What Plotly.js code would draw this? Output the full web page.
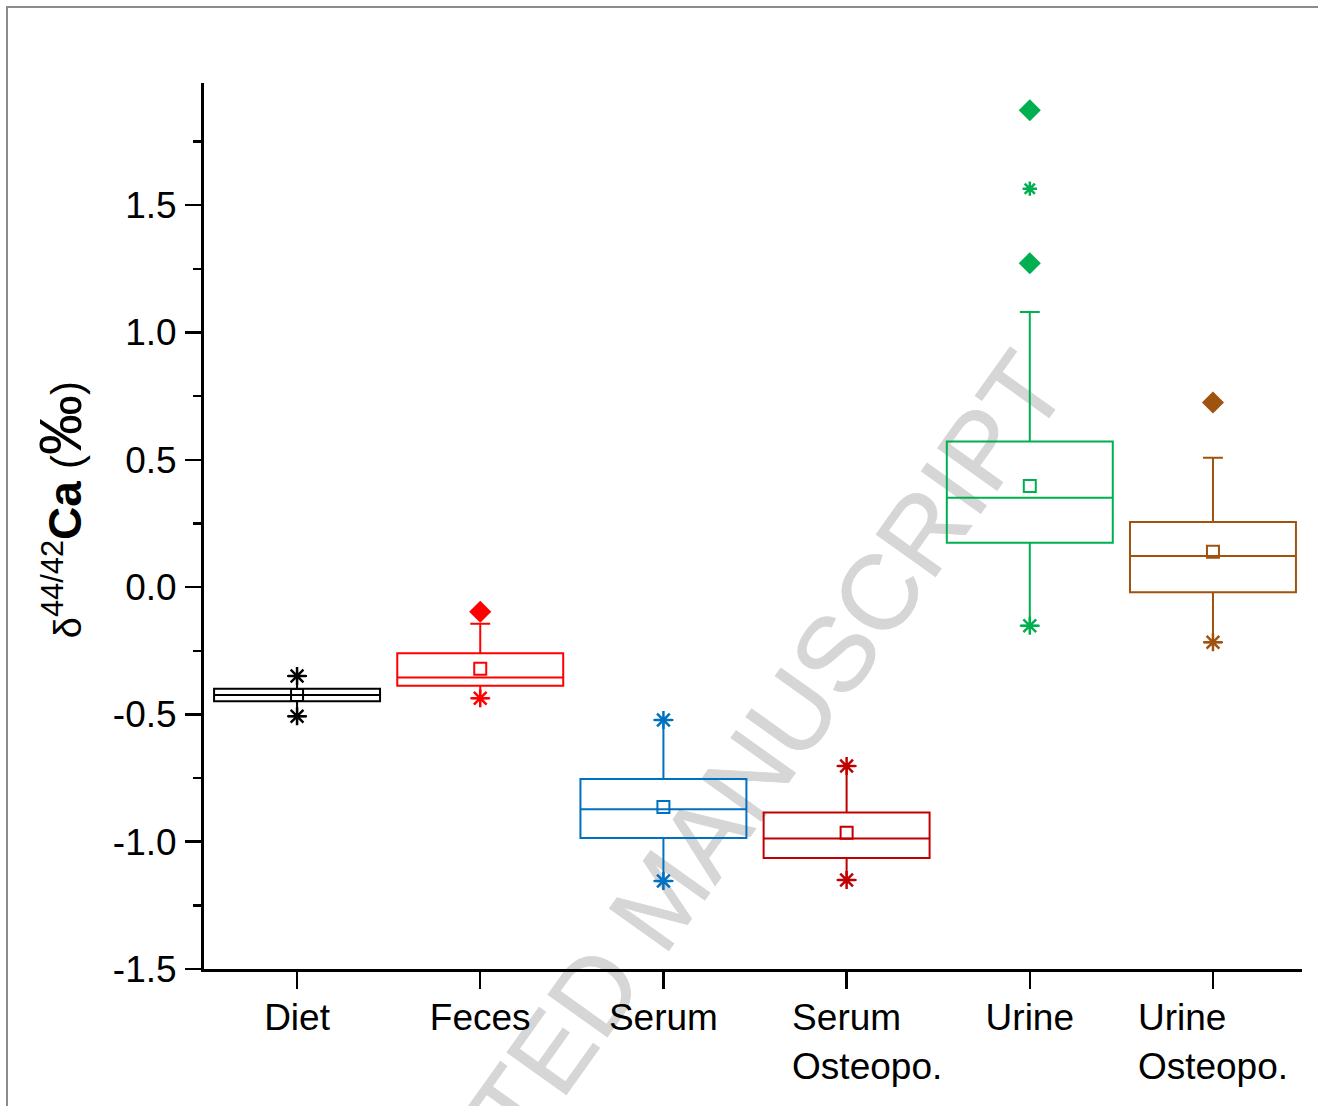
<!DOCTYPE html>
<html>
<head>
<meta charset="utf-8">
<script src="https://cdn.plot.ly/plotly-3.0.1.min.js"></script>
<style>
  html, body { margin: 0; padding: 0; background: #ffffff; }
  #wrap { position: relative; width: 1318px; height: 1106px; overflow: hidden; background: #ffffff; }
  #wm { position: absolute; left: 661px; top: 898px; transform: translate(-50%, -50%) rotate(-54.5deg);
        font-family: "Liberation Sans", Arial, sans-serif; font-size: 106px; line-height: 1; color: #d6d6d6;
        -webkit-text-stroke: 0.8px #d6d6d6;
        white-space: nowrap; z-index: 0; }
  #chart { position: absolute; left: 0; top: 0; width: 1318px; height: 1106px; z-index: 1; }
  #edge { position: absolute; left: 6px; top: 6px; width: 1400px; height: 1200px;
          border-left: 2px solid #8c8c8c; border-top: 2px solid #8c8c8c; z-index: 2; pointer-events: none; }
</style>
</head>
<body>
<div id="wrap">
  <div id="wm">ACCEPTED MANUSCRIPT</div>
  <div id="chart"></div>
  <div id="edge"></div>
</div>
<script>
// ---- data ----
var categories = ["Diet", "Feces", "Serum", "Serum Osteopo.", "Urine", "Urine Osteopo."];
var tickLabels = ["Diet", "Feces", "Serum",
  "\u00a0\u00a0\u00a0\u00a0Serum\u00a0\u00a0\u00a0\u00a0<br>\u00a0\u00a0\u00a0\u00a0Osteopo.",
  "Urine",
  "Urine\u00a0\u00a0\u00a0\u00a0\u00a0\u00a0<br>Osteopo."];
var q1Values     = [-0.448, -0.387, -0.985, -1.064, 0.174, -0.020];
var medianValues = [-0.424, -0.355, -0.873, -0.987, 0.351, 0.122];
var q3Values     = [-0.399, -0.260, -0.754, -0.885, 0.572, 0.256];
var lowerWhisker = [-0.507, -0.437, -1.154, -1.150, -0.152, -0.217];
var upperWhisker = [-0.349, -0.144, -0.522, -0.703, 1.081, 0.508];
var meanValues   = [-0.424, -0.321, -0.864, -0.965, 0.397, 0.139];
// asterisk markers (extreme / percentile points)
var starGroup  = [0, 0, 1, 2, 2, 3, 3, 4, 4, 5];
var starValues = [-0.349, -0.507, -0.437, -0.522, -1.154, -0.703, -1.150, 1.565, -0.152, -0.217];
// diamond outliers
var outlierGroup  = [1, 4, 4, 5];
var outlierValues = [-0.097, 1.873, 1.272, 0.725];
var yTickValues = [-1.5, -1.0, -0.5, 0.0, 0.5, 1.0, 1.5];
var yTickLabels = ["-1.5", "-1.0", "-0.5", "0.0", "0.5", "1.0", "1.5"];

// ---- style ----
var colors = ["#000000", "#FF0000", "#0070C0", "#C00000", "#00B050", "#A0520F"];
var starIsSmall = [false, false, false, false, false, false, false, true, false, false];
var positions = categories.map(function (c, i) { return i; });

var traces = [];
categories.forEach(function (name, i) {
  traces.push({
    type: "box",
    name: name,
    x: [positions[i]],
    q1: [q1Values[i]],
    median: [medianValues[i]],
    q3: [q3Values[i]],
    lowerfence: [lowerWhisker[i]],
    upperfence: [upperWhisker[i]],
    width: 0.906,
    whiskerwidth: 0.12,
    boxpoints: false,
    fillcolor: "rgba(0,0,0,0)",
    line: { color: colors[i], width: 2 },
    hoverinfo: "skip",
    showlegend: false
  });
});

// means
categories.forEach(function (name, i) {
  traces.push({
    type: "scatter", mode: "markers",
    x: [positions[i]], y: [meanValues[i]],
    marker: { symbol: "square-open", size: 12, color: colors[i], line: { color: colors[i], width: 2 } },
    hoverinfo: "skip", showlegend: false
  });
});

// asterisks (two sizes)
[false, true].forEach(function (small) {
  var idx = starValues.map(function (v, k) { return k; }).filter(function (k) { return starIsSmall[k] === small; });
  var cols = idx.map(function (k) { return colors[starGroup[k]]; });
  traces.push({
    type: "scatter", mode: "markers",
    x: idx.map(function (k) { return positions[starGroup[k]]; }),
    y: idx.map(function (k) { return starValues[k]; }),
    marker: {
      symbol: "asterisk-open", size: small ? 12 : 15,
      color: cols,
      line: { color: cols, width: 2.5 }
    },
    hoverinfo: "skip", showlegend: false
  });
});

// diamonds
traces.push({
  type: "scatter", mode: "markers",
  x: outlierGroup.map(function (g) { return positions[g]; }),
  y: outlierValues,
  marker: {
    symbol: "diamond", size: 17,
    color: outlierGroup.map(function (g) { return colors[g]; }),
    line: { width: 0 }
  },
  hoverinfo: "skip", showlegend: false
});

var font = "Liberation Sans, Arial, sans-serif";
var yTitle = "<span style=\"font-size:38px\">δ</span>" +
  "<sup>44/42</sup>" +
  "<b><span style=\"font-size:46px\">Ca</span></b> " +
  "<span style=\"font-size:42px\">(</span><span style=\"font-size:60px\">‰</span><span style=\"font-size:42px\">)</span>";

var layout = {
  width: 1318, height: 1106,
  margin: { l: 204, r: 16, t: 83, b: 137, pad: 0 },
  paper_bgcolor: "rgba(0,0,0,0)",
  plot_bgcolor: "rgba(0,0,0,0)",
  showlegend: false,
  boxmode: "overlay",
  font: { family: font, color: "#000000" },
  xaxis: {
    range: [-0.508, 5.486],
    tickmode: "array",
    tickvals: positions,
    ticktext: tickLabels,
    ticks: "outside", ticklen: 17, tickwidth: 2.5, tickcolor: "#000",
    ticklabelstandoff: -3,
    showline: true, linewidth: 3, linecolor: "#000",
    showgrid: false, zeroline: false,
    tickfont: { family: font, size: 37, color: "#000" },
    fixedrange: true
  },
  yaxis: {
    range: [-1.5, 1.98],
    tickmode: "array",
    tickvals: yTickValues,
    ticktext: yTickLabels,
    ticks: "outside", ticklen: 16, tickwidth: 2.5, tickcolor: "#000",
    ticklabelstandoff: 1,
    minor: { dtick: 0.25, tick0: 0, ticks: "outside", ticklen: 8, tickwidth: 2.5, tickcolor: "#000", showgrid: false },
    showline: true, linewidth: 3, linecolor: "#000",
    showgrid: false, zeroline: false,
    tickfont: { family: font, size: 37, color: "#000" },
    automargin: false,
    fixedrange: true
  },
  annotations: [{
    text: yTitle,
    xref: "paper", yref: "paper",
    x: -0.131, y: 0.518,
    xanchor: "center", yanchor: "middle",
    textangle: -90,
    showarrow: false,
    font: { family: font, size: 44, color: "#000" }
  }]
};

Plotly.newPlot("chart", traces, layout, { displayModeBar: false, staticPlot: true });
</script>
</body>
</html>
